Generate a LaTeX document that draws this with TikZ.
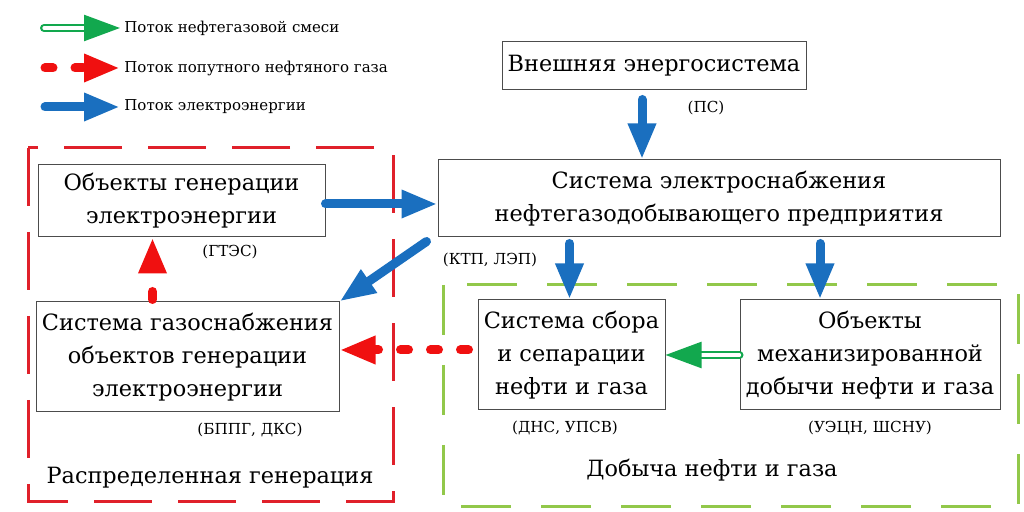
\documentclass[tikz,border=0pt]{standalone}
\usepackage{fontspec}
\setmainfont{DejaVu Serif}
\usetikzlibrary{arrows.meta,positioning,calc}
\definecolor{elblue}{HTML}{1A6FBF}
\definecolor{gasred}{HTML}{F01010}
\definecolor{oilgreen}{HTML}{12A84E}
\definecolor{zonered}{HTML}{E0202A}
\definecolor{zonegreen}{HTML}{92C84A}
\tikzset{
  % Base styles
  diagram base/.style={
    x=0.5pt, y=-0.5pt,
    every node/.style={font=\rmfamily\fontsize{11.2}{16.5}\selectfont},
  },
  % Blocks and notes
  block node/.style={rectangle, draw=gray!60!black, line width=0.5pt, align=center, inner sep=1pt, fill=white},
  note node/.style={font=\rmfamily\fontsize{7.6}{10}\selectfont, inner sep=0pt},
  legend node/.style={font=\rmfamily\fontsize{7.5}{10}\selectfont, inner sep=2pt, anchor=west},
  zone label/.style={inner sep=0pt},
  % Zones
  red zone/.style={draw=zonered, line width=1.5pt, dash pattern=on 29pt off 13pt},
  green zone/.style={draw=zonegreen, line width=1.5pt, dash pattern=on 25pt off 15pt},
  % Flows
  big tip/.style={-{Triangle[length=18pt,width=13pt]}},
  power flow/.style={draw=elblue, line width=4.5pt, line cap=round, big tip},
  gas flow/.style={draw=gasred, line width=4.5pt, line cap=round, dash pattern=on 4pt off 11pt, big tip},
  oil flow/.style={draw=oilgreen, double=white, double distance=1.6pt, line width=1.2pt, line cap=round, big tip},
}

\begin{document}
\begin{tikzpicture}[diagram base]
\useasboundingbox (0,0) rectangle (1024,512);

% Zones
\draw[red zone] (28,148) rectangle (393,502);
\draw[green zone] (443,285) rectangle (1018,507);
\node[zone label] (distgen) at (210,478) {Распределенная генерация};
\node[zone label] (oilprod) at (712,470) {Добыча нефти и газа};

% Legend
\coordinate (lgoilstart) at (44,28);
\coordinate (lggasstart) at (45,68);
\coordinate (lgpowstart) at (45,107);
\node[legend node] (lgoil) at (120,28) {Поток нефтегазовой смеси};
\node[legend node] (lggas) at (120,68) {Поток попутного нефтяного газа};
\node[legend node] (lgpow) at (120,107) {Поток электроэнергии};

% Blocks
\node[block node, minimum width=152pt, minimum height=24pt] (ext) at (654,66) {Внешняя энергосистема};
\node[block node, minimum width=281pt, minimum height=38.5pt] (ses) at (719,198.5) {Система электроснабжения\\нефтегазодобывающего предприятия};
\node[block node, minimum width=143.5pt, minimum height=36pt] (gen) at (181.5,201) {Объекты генерации\\электроэнергии};
\node[block node, minimum width=151.5pt, minimum height=55pt] (gas) at (187.5,357) {Система газоснабжения\\объектов генерации\\электроэнергии};
\node[block node, minimum width=93.5pt, minimum height=55pt] (sbor) at (571.5,355) {Система сбора\\и сепарации\\нефти и газа};
\node[block node, minimum width=130pt, minimum height=55pt] (mech) at (870,355) {Объекты\\механизированной\\добычи нефти и газа};

% Notes
\node[note node] (ps) at (706,108) {(ПС)};
\node[note node] (ktp) at (490,260) {(КТП, ЛЭП)};
\node[note node] (gtes) at (230,252) {(ГТЭС)};
\node[note node] (bppg) at (250,430) {(БППГ, ДКС)};
\node[note node] (dns) at (565,428) {(ДНС, УПСВ)};
\node[note node] (uecn) at (870,428) {(УЭЦН, ШСНУ)};

% Legend arrows
\draw[oil flow] (lgoilstart) -- (lgoil.west);
\draw[gas flow] (lggasstart) -- (lggas.west);
\draw[power flow] (lgpowstart) -- (lgpow.west);

% Power flows
\draw[power flow] ($(ext.south)+(-12,9)$) -- ($(ext.south |- ses.north)+(-12,0)$);
\draw[power flow] ($(gen.east)+(0,3)$) -- ($(gen.east -| ses.west)+(0,3)$);
\draw[power flow] ($(ses.south west)+(-11,4)$) -- (gas.north east);
\draw[power flow] ($(sbor.north |- ses.south)+(-2,6)$) -- ($(sbor.north)+(-2,0)$);
\draw[power flow] ($(mech.north |- ses.south)+(-50,6)$) -- ($(mech.north)+(-50,0)$);

% Gas flows
\draw[gas flow] ($(gas.north)+(-35,-2)$) -- ($(gen.south)+(-29,0)$);
\draw[gas flow] ($(sbor.west)+(-9,-5)$) -- ($(sbor.west -| gas.east)+(0,-5)$);

% Oil flow
\draw[oil flow] (mech.west) -- (sbor.east);
\end{tikzpicture}
\end{document}
